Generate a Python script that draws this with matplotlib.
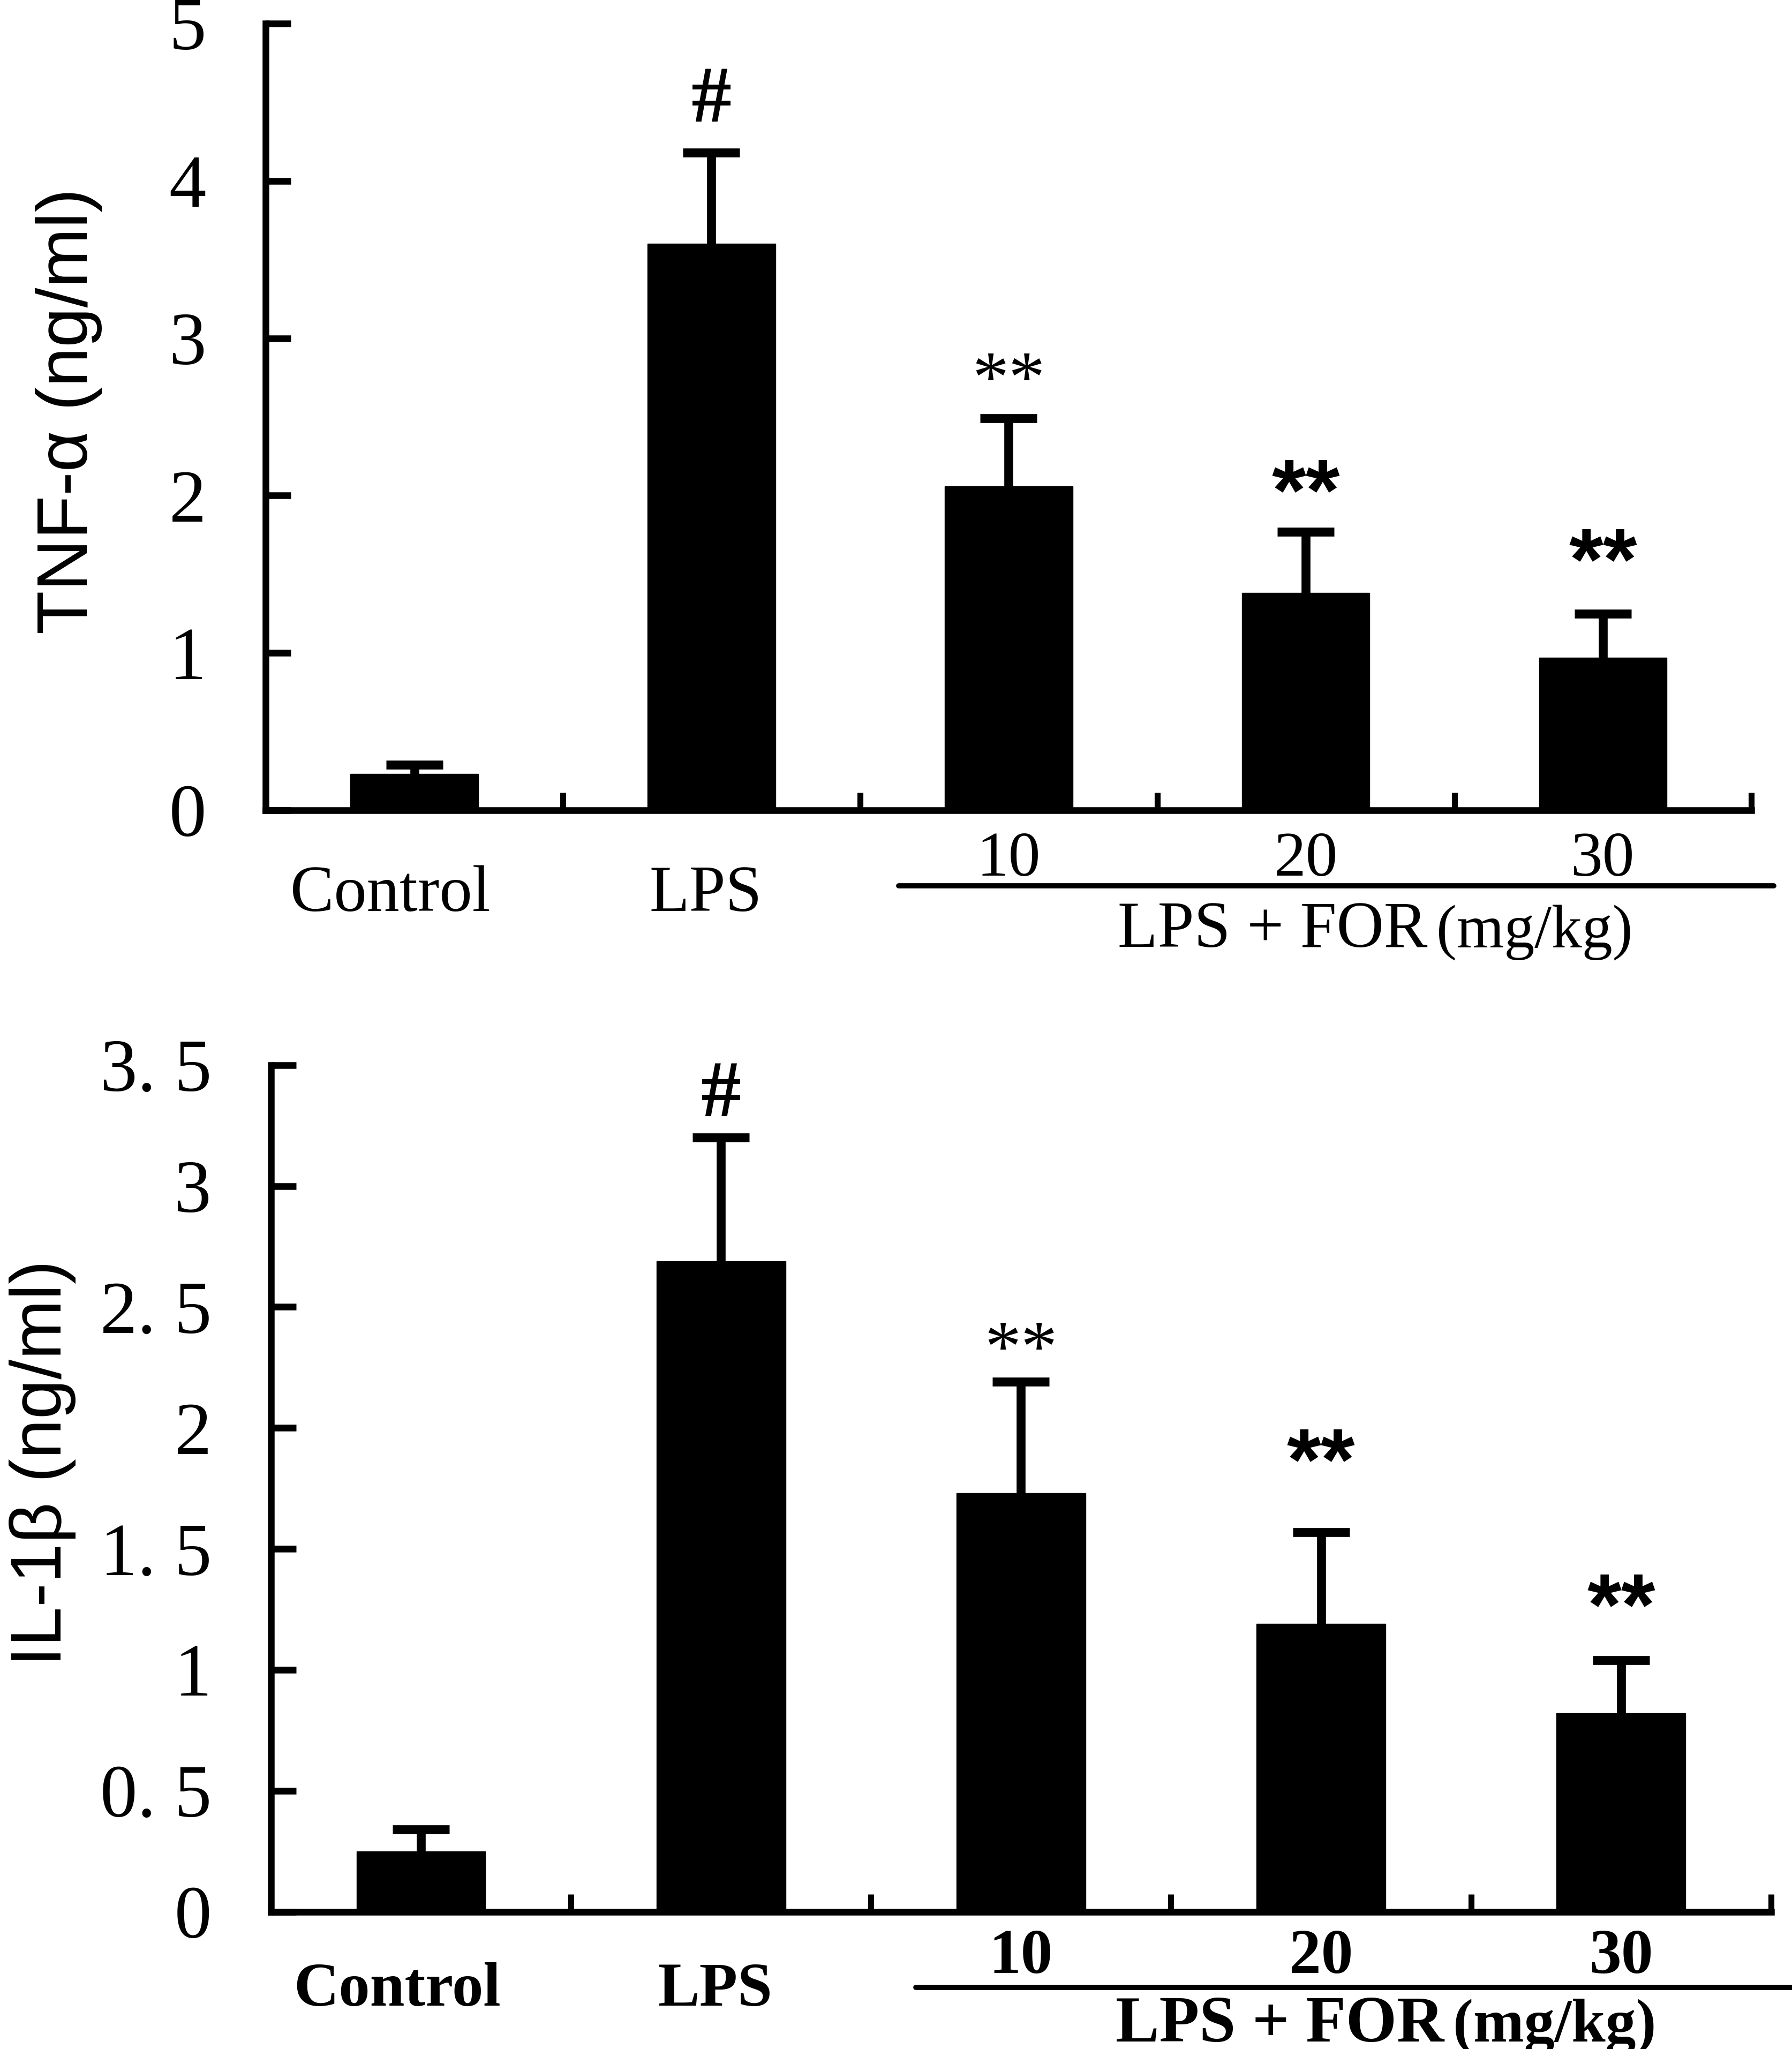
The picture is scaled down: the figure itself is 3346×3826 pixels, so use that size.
import numpy as np
import matplotlib
matplotlib.use("Agg")
import matplotlib.pyplot as plt
from matplotlib.transforms import blended_transform_factory

groups = ['Control', 'LPS', '10', '20', '30']
tnf_mean = [0.23, 3.60, 2.06, 1.38, 0.97]
tnf_err = [0.06, 0.58, 0.43, 0.39, 0.28]
il_mean = [0.25, 2.69, 1.73, 1.19, 0.82]
il_err = [0.09, 0.51, 0.46, 0.38, 0.22]
tnf_marks = ['', '#', '**', '**', '**']
il_marks = ['', '#', '**', '**', '**']
tnf_ticks = [0, 1, 2, 3, 4, 5]
tnf_ticklabels = ['0', '1', '2', '3', '4', '5']
il_ticks = [0, 0.5, 1, 1.5, 2, 2.5, 3, 3.5]
il_ticklabels = ['0', '0. 5', '1', '1. 5', '2', '2. 5', '3', '3. 5']

SERIF = 'Liberation Serif'
SANS = 'Liberation Sans'

fig = plt.figure(figsize=(33.46, 38.26), dpi=100)
ax1 = fig.add_axes([0.1483, 0.6046, 0.8291, 0.3839])
ax2 = fig.add_axes([0.1512, 0.0670, 0.8371, 0.4132])

x = np.arange(len(groups))


def draw_panel(ax, means, errs, marks, ticks, ticklabels, ymax, ylabel, ylab_pos,
               mark_pad, label_y, num_y, line_y, sub_y, bold, line_x, sub_x):
    ax.bar(x, means, width=0.43, color='black', edgecolor='black', zorder=2)
    eb = ax.errorbar(x, means, yerr=[np.zeros(len(errs)), errs], fmt='none',
                     ecolor='black', elinewidth=12, capsize=38, capthick=12, zorder=1)
    # only the upper cap is drawn in the original
    for cap in eb[1]:
        if np.allclose(cap.get_ydata(), means):
            cap.set_visible(False)
    ax.set_xlim(-0.5, 4.5)
    ax.set_ylim(0, ymax)
    for s in ['top', 'right']:
        ax.spines[s].set_visible(False)
    for s in ['left', 'bottom']:
        ax.spines[s].set_linewidth(9)
    ax.set_yticks(ticks)
    ax.set_yticklabels(ticklabels, fontfamily=SERIF, fontsize=100)
    ax.tick_params(axis='y', direction='in', length=34, width=9, pad=80)
    ax.set_xticks([0.5, 1.5, 2.5, 3.5, 4.5])
    ax.set_xticklabels([])
    ax.tick_params(axis='x', direction='in', length=24, width=8)
    ax.set_ylabel(ylabel, fontfamily=SANS, fontsize=96)
    ax.yaxis.set_label_coords(*ylab_pos)

    # significance marks
    for i, m in enumerate(marks):
        if not m:
            continue
        top = means[i] + errs[i]
        if m == '#':
            ax.text(x[i], top + mark_pad[i], m, ha='center', va='center',
                    fontfamily=SERIF, fontweight='bold', fontsize=108)
        elif i == 2:
            ax.text(x[i], top + mark_pad[i], m, ha='center', va='center',
                    fontfamily=SERIF, fontsize=98)
        else:
            ax.text(x[i], top + mark_pad[i], m, ha='center', va='center',
                    fontfamily=SANS, fontweight='bold', fontsize=118)

    tr = blended_transform_factory(ax.transData, ax.transAxes)
    w = 'bold' if bold else 'normal'
    ax.text(x[0] - 0.08, label_y, groups[0], transform=tr, ha='center',
            va='baseline', fontfamily=SERIF, fontweight=w, fontsize=88 if not bold else 84)
    ax.text(x[1] - 0.02, label_y, groups[1], transform=tr, ha='center',
            va='baseline', fontfamily=SERIF, fontweight=w, fontsize=88 if not bold else 84)
    for i in range(2, 5):
        ax.text(x[i], num_y, groups[i], transform=tr, ha='center',
                va='baseline', fontfamily=SERIF, fontweight=w, fontsize=86)
    ax.plot(line_x, [line_y, line_y], transform=tr, color='black', lw=7,
            clip_on=False, solid_capstyle='round')
    ax.text(sub_x, sub_y, 'LPS + FOR', transform=tr, ha='right',
            va='baseline', fontfamily=SERIF, fontweight=w, fontsize=88)
    ax.text(sub_x + 0.03, sub_y, '(mg/kg)', transform=tr, ha='left',
            va='baseline', fontfamily=SERIF, fontweight=w, fontsize=82)


draw_panel(ax1, tnf_mean, tnf_err, tnf_marks, tnf_ticks, tnf_ticklabels, 5,
           'TNF-α (ng/ml)', (-0.11, 0.507), [0, 0.32, 0.22, 0.22, 0.30],
           -0.128, -0.083, -0.096, -0.174, False, [1.63, 4.575], 3.41)
draw_panel(ax2, il_mean, il_err, il_marks, il_ticks, il_ticklabels, 3.5,
           'IL-1β (ng/ml)', (-0.13, 0.53), [0, 0.17, 0.12, 0.27, 0.20],
           -0.111, -0.0725, -0.0895, -0.153, True, [1.65, 4.57], 3.41)

fig.savefig('out.png', dpi=100, facecolor='white')
